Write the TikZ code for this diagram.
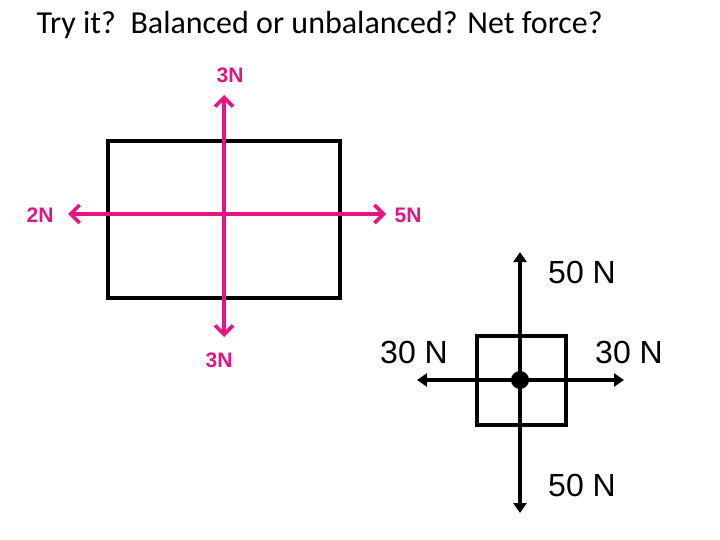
\documentclass[tikz,border=0pt]{standalone}
\usepackage{fontspec}
\setmainfont{Carlito}
\setsansfont{Liberation Sans}
\usetikzlibrary{positioning, arrows.meta}
\definecolor{forcepink}{RGB}{230,20,130}
\tikzset{
  PinkArrow/.style = {draw=forcepink, line width=3.6pt, -{Straight Barb[length=9pt, width=18pt, line width=3.6pt]}},
  BlackArrow/.style = {line width=4pt, -{Triangle[length=10pt, width=13pt]}},
  pinklabel/.style = {text=forcepink, font=\sffamily\bfseries\fontsize{21}{24}\selectfont},
  blacklabel/.style = {font=\sffamily\fontsize{32}{36}\selectfont},
}
\begin{document}
\begin{tikzpicture}[x=1pt, y=-1pt]
		\useasboundingbox (0,0) rectangle (720,540);
		\node[anchor=west, font=\fontsize{32}{36}\selectfont] (title) at (33,25) {Try it?\ \ Balanced or unbalanced? Net force?};

		% pink object
		\node[draw, line width=3.6pt, minimum width=232pt, minimum height=157pt] (box) at (224,219.5) {};
		\coordinate (mid) at (224,214);
		\coordinate (up) at (224,95);
		\coordinate (down) at (224,337);
		\coordinate (left) at (68,214);
		\coordinate (right) at (386,214);
		\draw[PinkArrow] (mid) -- (up);
		\draw[PinkArrow] (mid) -- (down);
		\draw[PinkArrow] (mid) -- (left);
		\draw[PinkArrow] (mid) -- (right);
		\node[pinklabel] (lup) at (230,75) {3N};
		\node[pinklabel] (ldown) at (219,360) {3N};
		\node[pinklabel] (lleft) at (40,215) {2N};
		\node[pinklabel] (lright) at (408,215) {5N};

		% black object
		\node[draw, line width=4pt, minimum width=89pt, minimum height=89pt] (sq) at (521.5,380.5) {};
		\node[circle, fill, inner sep=0pt, minimum size=18pt] (dot) at (520,380) {};
		\coordinate (bup) at (520,252);
		\coordinate (bdown) at (520,513);
		\coordinate (bleft) at (417,380);
		\coordinate (bright) at (624,380);
		\draw[BlackArrow] (dot.center) -- (bup);
		\draw[BlackArrow] (dot.center) -- (bdown);
		\draw[BlackArrow] (dot.center) -- (bleft);
		\draw[BlackArrow] (dot.center) -- (bright);
		\node[blacklabel] (bl1) at (582,272) {50 N};
		\node[blacklabel] (bl2) at (414,352) {30 N};
		\node[blacklabel] (bl3) at (629,352) {30 N};
		\node[blacklabel] (bl4) at (582,485) {50 N};
	\end{tikzpicture}
\end{document}
